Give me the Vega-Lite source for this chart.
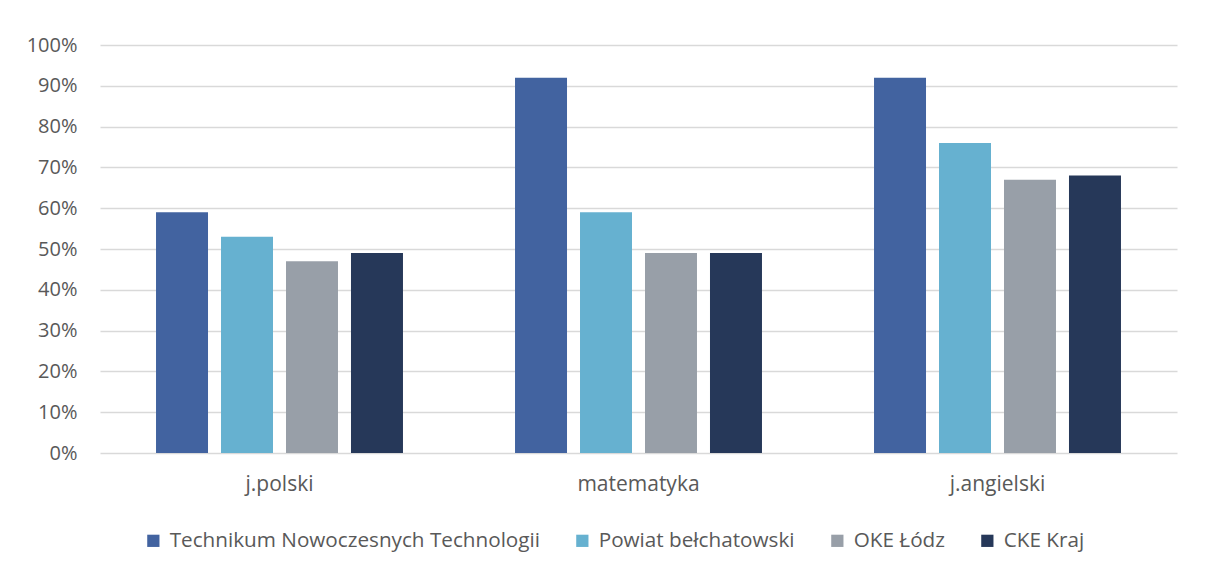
{
  "$schema": "https://vega.github.io/schema/vega-lite/v6.json",
  "autosize": "none",
  "width": 1077,
  "height": 408,
  "padding": {"left": 100, "top": 45, "right": 31, "bottom": 119},
  "background": "white",
  "data": {"values": [
    {"przedmiot": "j.polski", "seria": "Technikum Nowoczesnych Technologii", "wynik": 0.59},
    {"przedmiot": "j.polski", "seria": "Powiat bełchatowski", "wynik": 0.53},
    {"przedmiot": "j.polski", "seria": "OKE Łódz", "wynik": 0.47},
    {"przedmiot": "j.polski", "seria": "CKE Kraj", "wynik": 0.49},
    {"przedmiot": "matematyka", "seria": "Technikum Nowoczesnych Technologii", "wynik": 0.92},
    {"przedmiot": "matematyka", "seria": "Powiat bełchatowski", "wynik": 0.59},
    {"przedmiot": "matematyka", "seria": "OKE Łódz", "wynik": 0.49},
    {"przedmiot": "matematyka", "seria": "CKE Kraj", "wynik": 0.49},
    {"przedmiot": "j.angielski", "seria": "Technikum Nowoczesnych Technologii", "wynik": 0.92},
    {"przedmiot": "j.angielski", "seria": "Powiat bełchatowski", "wynik": 0.76},
    {"przedmiot": "j.angielski", "seria": "OKE Łódz", "wynik": 0.67},
    {"przedmiot": "j.angielski", "seria": "CKE Kraj", "wynik": 0.68}
  ]},
  "mark": {"type": "bar"},
  "encoding": {
    "x": {
      "field": "przedmiot", "type": "nominal",
      "sort": ["j.polski", "matematyka", "j.angielski"],
      "scale": {"paddingInner": 0, "paddingOuter": 0},
      "axis": {"title": null, "labelAngle": 0, "domain": false, "ticks": false, "labelPadding": 20, "labelFontSize": 21, "labelColor": "#595959", "labelFont": "Open Sans"}
    },
    "xOffset": {
      "field": "seria", "type": "nominal",
      "sort": ["Technikum Nowoczesnych Technologii", "Powiat bełchatowski", "OKE Łódz", "CKE Kraj"],
      "scale": {"paddingInner": 0.2, "paddingOuter": 0.862}
    },
    "y": {
      "field": "wynik", "type": "quantitative",
      "scale": {"domain": [0, 1], "nice": false},
      "axis": {"title": null, "format": ".0%", "values": [0, 0.1, 0.2, 0.3, 0.4, 0.5, 0.6, 0.7, 0.8, 0.9, 1], "domain": false, "ticks": false, "labelPadding": 23, "labelFontSize": 20, "labelColor": "#595959", "labelFont": "Open Sans", "gridColor": "#d9d9d9", "gridWidth": 1.3}
    },
    "color": {
      "field": "seria", "type": "nominal",
      "sort": ["Technikum Nowoczesnych Technologii", "Powiat bełchatowski", "OKE Łódz", "CKE Kraj"],
      "scale": {
        "domain": ["Technikum Nowoczesnych Technologii", "Powiat bełchatowski", "OKE Łódz", "CKE Kraj"],
        "range": ["#4263a0", "#66b1d0", "#989fa8", "#263859"]
      },
      "legend": {
        "title": null, "orient": "none", "direction": "horizontal",
        "legendX": 43, "legendY": 485,
        "symbolType": "square", "symbolSize": 150, "symbolStrokeWidth": 0,
        "labelFontSize": 20.7, "labelColor": "#595959", "labelFont": "Open Sans",
        "labelOffset": 6, "columnPadding": 32, "labelLimit": 500
      }
    }
  },
  "config": {"view": {"stroke": null}}
}
